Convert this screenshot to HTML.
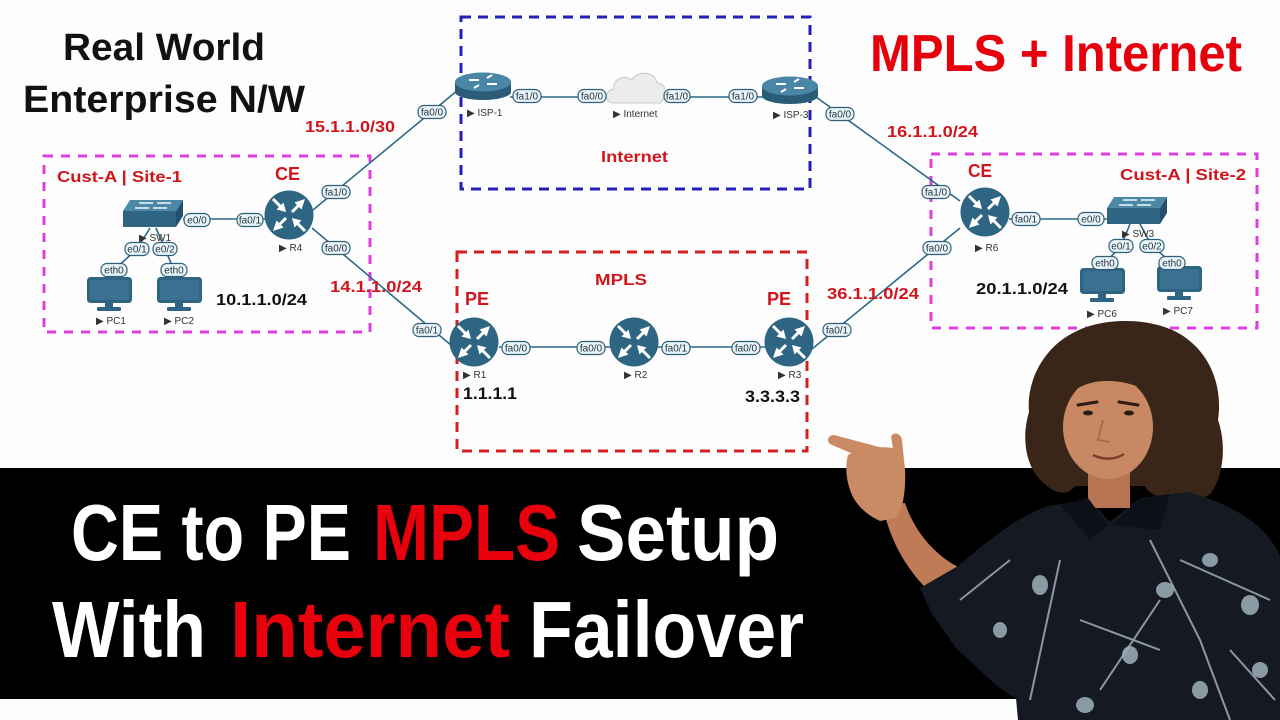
<!DOCTYPE html>
<html><head><meta charset="utf-8"><style>
html,body{margin:0;padding:0;background:#fff;}
svg{display:block;}
.pl rect{fill:#eaf4f8;stroke:#2f5f78;stroke-width:1.2;}
.pl text{font-family:"Liberation Sans",sans-serif;font-size:10px;fill:#1d3440;text-anchor:middle;}
.dl{font-family:"Liberation Sans","DejaVu Sans",sans-serif;font-size:10px;fill:#333;}
.rl{font-family:"Liberation Sans",sans-serif;font-weight:bold;fill:#cf161d;}
.bl{font-family:"Liberation Sans",sans-serif;font-weight:bold;fill:#111;}
.ln{stroke:#2b6a86;stroke-width:1.6;fill:none;}
</style></head><body>
<svg width="1280" height="720" viewBox="0 0 1280 720" xmlns="http://www.w3.org/2000/svg">
<defs>
<g id="rt">
<circle r="24.5" fill="#2e6583"/>
<g fill="#fff" stroke="#fff" stroke-width="3">
<line x1="3" y1="-3" x2="10" y2="-10"/><line x1="-8" y1="-8" x2="-16" y2="-16"/>
<line x1="-3" y1="3" x2="-10" y2="10"/><line x1="8" y1="8" x2="16" y2="16"/>
</g>
<g fill="#fff">
<polygon points="16,-16 12.5,-5.5 5.5,-12.5"/>
<polygon points="-3,-3 -5.5,-12.5 -12.5,-5.5"/>
<polygon points="-16,16 -12.5,5.5 -5.5,12.5"/>
<polygon points="3,3 12.5,5.5 5.5,12.5"/>
</g>
</g>
<g id="isp">
<path d="M-28,-4 L-28,6 A28,8 0 0 0 28,6 L28,-4 Z" fill="#2a5c78"/>
<ellipse cx="0" cy="-4" rx="28" ry="9.5" fill="#4a86a6"/>
<g stroke="#fff" stroke-width="2">
<line x1="-14" y1="-6" x2="-4" y2="-6"/><line x1="4" y1="-2" x2="14" y2="-2"/>
<line x1="-4" y1="-1" x2="-9" y2="2"/><line x1="4" y1="-8" x2="9" y2="-11"/>
</g>
</g>
<g id="sw">
<polygon points="7,0 60,0 53,11 0,11" fill="#4d88a6"/>
<rect x="0" y="11" width="53" height="16" fill="#2f6583"/>
<polygon points="53,11 60,0 60,16 53,27" fill="#23506a"/>
<g stroke="#fff" stroke-width="1.4">
<line x1="16" y1="3" x2="30" y2="3"/><line x1="34" y1="3" x2="48" y2="3"/>
<line x1="12" y1="8" x2="26" y2="8"/><line x1="30" y1="8" x2="44" y2="8"/>
</g>
</g>
<g id="pc">
<rect x="1.5" y="1.5" width="42" height="23" rx="2" fill="#3a7190" stroke="#2f6583" stroke-width="3"/>
<rect x="18" y="25" width="8" height="6" fill="#2f6583"/>
<rect x="10" y="30" width="24" height="4" rx="1" fill="#2f6583"/>
</g>
</defs>

<rect width="1280" height="720" fill="#fdfdfd"/>

<!-- titles -->
<text class="bl" x="63" y="60" font-size="38" textLength="202" lengthAdjust="spacingAndGlyphs">Real World</text>
<text class="bl" x="23" y="112" font-size="38" textLength="282" lengthAdjust="spacingAndGlyphs">Enterprise N/W</text>
<text x="870" y="71" font-size="52" font-weight="bold" font-family="Liberation Sans, sans-serif" fill="#e6000c" textLength="372" lengthAdjust="spacingAndGlyphs">MPLS + Internet</text>

<!-- boxes -->
<rect x="461" y="17" width="349" height="172" fill="none" stroke="#2320b8" stroke-width="3" stroke-dasharray="10 7"/>
<rect x="44" y="156" width="326" height="176" fill="none" stroke="#dd3fdd" stroke-width="3" stroke-dasharray="9 8"/>
<rect x="931" y="154" width="326" height="174" fill="none" stroke="#dd3fdd" stroke-width="3" stroke-dasharray="9 8"/>
<rect x="457" y="252" width="350" height="199" fill="none" stroke="#d42020" stroke-width="3" stroke-dasharray="10 7"/>

<!-- links -->
<line class="ln" x1="313" y1="210" x2="458" y2="90"/>
<line class="ln" x1="312" y1="228" x2="452" y2="346"/>
<line class="ln" x1="812" y1="349" x2="960" y2="228"/>
<line class="ln" x1="816" y1="97" x2="960" y2="201"/>
<line class="ln" x1="510" y1="97" x2="610" y2="97"/>
<line class="ln" x1="660" y1="97" x2="764" y2="97"/>
<line class="ln" x1="499" y1="347" x2="765" y2="347"/>
<line class="ln" x1="183" y1="219" x2="265" y2="219"/>
<line class="ln" x1="1009" y1="219" x2="1107" y2="219"/>
<polyline class="ln" points="150,228 137,249 114,270 110,278"/>
<polyline class="ln" points="156,228 165,249 174,270 178,278"/>
<polyline class="ln" points="1130,224 1121,246 1105,263 1101,268"/>
<polyline class="ln" points="1140,224 1152,246 1172,263 1178,268"/>

<!-- cloud -->
<path d="M614,103 C604,103 604,90 614,89 C612,79 625,74 632,80 C637,70 655,71 657,83 C667,83 668,97 660,103 Z" fill="#ececec" stroke="#c8c8c8" stroke-width="1"/>

<!-- devices -->
<use href="#isp" x="483" y="86"/>
<use href="#isp" x="790" y="90"/>
<use href="#rt" x="289" y="215"/>
<use href="#rt" x="474" y="342"/>
<use href="#rt" x="634" y="342"/>
<use href="#rt" x="789" y="342"/>
<use href="#rt" x="985" y="212"/>
<use href="#sw" x="123" y="200"/>
<use href="#sw" x="1107" y="197"/>
<use href="#pc" x="87" y="277"/>
<use href="#pc" x="157" y="277"/>
<use href="#pc" x="1080" y="268"/>
<use href="#pc" x="1157" y="266"/>

<!-- pills -->
<g class="pl">
<g transform="translate(197,220)"><rect x="-13" y="-6.5" width="26" height="13" rx="6"/><text y="3.5">e0/0</text></g>
<g transform="translate(250,220)"><rect x="-13" y="-6.5" width="26" height="13" rx="6"/><text y="3.5">fa0/1</text></g>
<g transform="translate(336,192)"><rect x="-14" y="-6.5" width="28" height="13" rx="6"/><text y="3.5">fa1/0</text></g>
<g transform="translate(336,248)"><rect x="-14" y="-6.5" width="28" height="13" rx="6"/><text y="3.5">fa0/0</text></g>
<g transform="translate(137,249)"><rect x="-12" y="-6.5" width="24" height="13" rx="6"/><text y="3.5">e0/1</text></g>
<g transform="translate(165,249)"><rect x="-12" y="-6.5" width="24" height="13" rx="6"/><text y="3.5">e0/2</text></g>
<g transform="translate(114,270)"><rect x="-13" y="-6.5" width="26" height="13" rx="6"/><text y="3.5">eth0</text></g>
<g transform="translate(174,270)"><rect x="-13" y="-6.5" width="26" height="13" rx="6"/><text y="3.5">eth0</text></g>
<g transform="translate(432,112)"><rect x="-14" y="-6.5" width="28" height="13" rx="6"/><text y="3.5">fa0/0</text></g>
<g transform="translate(427,330)"><rect x="-14" y="-6.5" width="28" height="13" rx="6"/><text y="3.5">fa0/1</text></g>
<g transform="translate(527,96)"><rect x="-14" y="-6.5" width="28" height="13" rx="6"/><text y="3.5">fa1/0</text></g>
<g transform="translate(592,96)"><rect x="-14" y="-6.5" width="28" height="13" rx="6"/><text y="3.5">fa0/0</text></g>
<g transform="translate(677,96)"><rect x="-13" y="-6.5" width="26" height="13" rx="6"/><text y="3.5">fa1/0</text></g>
<g transform="translate(743,96)"><rect x="-14" y="-6.5" width="28" height="13" rx="6"/><text y="3.5">fa1/0</text></g>
<g transform="translate(840,114)"><rect x="-14" y="-6.5" width="28" height="13" rx="6"/><text y="3.5">fa0/0</text></g>
<g transform="translate(516,348)"><rect x="-14" y="-6.5" width="28" height="13" rx="6"/><text y="3.5">fa0/0</text></g>
<g transform="translate(591,348)"><rect x="-14" y="-6.5" width="28" height="13" rx="6"/><text y="3.5">fa0/0</text></g>
<g transform="translate(676,348)"><rect x="-14" y="-6.5" width="28" height="13" rx="6"/><text y="3.5">fa0/1</text></g>
<g transform="translate(746,348)"><rect x="-14" y="-6.5" width="28" height="13" rx="6"/><text y="3.5">fa0/0</text></g>
<g transform="translate(837,330)"><rect x="-14" y="-6.5" width="28" height="13" rx="6"/><text y="3.5">fa0/1</text></g>
<g transform="translate(936,192)"><rect x="-14" y="-6.5" width="28" height="13" rx="6"/><text y="3.5">fa1/0</text></g>
<g transform="translate(937,248)"><rect x="-14" y="-6.5" width="28" height="13" rx="6"/><text y="3.5">fa0/0</text></g>
<g transform="translate(1026,219)"><rect x="-14" y="-6.5" width="28" height="13" rx="6"/><text y="3.5">fa0/1</text></g>
<g transform="translate(1091,219)"><rect x="-13" y="-6.5" width="26" height="13" rx="6"/><text y="3.5">e0/0</text></g>
<g transform="translate(1121,246)"><rect x="-12" y="-6.5" width="24" height="13" rx="6"/><text y="3.5">e0/1</text></g>
<g transform="translate(1152,246)"><rect x="-12" y="-6.5" width="24" height="13" rx="6"/><text y="3.5">e0/2</text></g>
<g transform="translate(1105,263)"><rect x="-13" y="-6.5" width="26" height="13" rx="6"/><text y="3.5">eth0</text></g>
<g transform="translate(1172,263)"><rect x="-13" y="-6.5" width="26" height="13" rx="6"/><text y="3.5">eth0</text></g>
</g>

<!-- device labels -->
<text class="dl" x="139" y="241">▶ SW1</text>
<text class="dl" x="279" y="251">▶ R4</text>
<text class="dl" x="96" y="324">▶ PC1</text>
<text class="dl" x="164" y="324">▶ PC2</text>
<text class="dl" x="467" y="116">▶ ISP-1</text>
<text class="dl" x="613" y="117">▶ Internet</text>
<text class="dl" x="773" y="118">▶ ISP-3</text>
<text class="dl" x="463" y="378">▶ R1</text>
<text class="dl" x="624" y="378">▶ R2</text>
<text class="dl" x="778" y="378">▶ R3</text>
<text class="dl" x="975" y="251">▶ R6</text>
<text class="dl" x="1122" y="237">▶ SW3</text>
<text class="dl" x="1087" y="317">▶ PC6</text>
<text class="dl" x="1163" y="314">▶ PC7</text>

<!-- red / black labels -->
<text class="rl" x="305" y="132" font-size="16" textLength="90" lengthAdjust="spacingAndGlyphs">15.1.1.0/30</text>
<text class="rl" x="887" y="137" font-size="16" textLength="91" lengthAdjust="spacingAndGlyphs">16.1.1.0/24</text>
<text class="rl" x="601" y="162" font-size="16" textLength="67" lengthAdjust="spacingAndGlyphs">Internet</text>
<text class="rl" x="57" y="182" font-size="16" textLength="125" lengthAdjust="spacingAndGlyphs">Cust-A | Site-1</text>
<text class="rl" x="275" y="180" font-size="18" textLength="25" lengthAdjust="spacingAndGlyphs">CE</text>
<text class="rl" x="330" y="292" font-size="16" textLength="92" lengthAdjust="spacingAndGlyphs">14.1.1.0/24</text>
<text class="bl" x="216" y="305" font-size="16" textLength="91" lengthAdjust="spacingAndGlyphs">10.1.1.0/24</text>
<text class="rl" x="595" y="285" font-size="16" textLength="52" lengthAdjust="spacingAndGlyphs">MPLS</text>
<text class="rl" x="465" y="305" font-size="18" textLength="24" lengthAdjust="spacingAndGlyphs">PE</text>
<text class="rl" x="767" y="305" font-size="18" textLength="24" lengthAdjust="spacingAndGlyphs">PE</text>
<text class="bl" x="463" y="399" font-size="17" textLength="54" lengthAdjust="spacingAndGlyphs">1.1.1.1</text>
<text class="bl" x="745" y="402" font-size="17" textLength="55" lengthAdjust="spacingAndGlyphs">3.3.3.3</text>
<text class="rl" x="827" y="299" font-size="16" textLength="92" lengthAdjust="spacingAndGlyphs">36.1.1.0/24</text>
<text class="rl" x="968" y="177" font-size="18" textLength="24" lengthAdjust="spacingAndGlyphs">CE</text>
<text class="rl" x="1120" y="180" font-size="16" textLength="126" lengthAdjust="spacingAndGlyphs">Cust-A | Site-2</text>
<text class="bl" x="976" y="294" font-size="16" textLength="92" lengthAdjust="spacingAndGlyphs">20.1.1.0/24</text>

<!-- banner -->
<rect x="0" y="468" width="1280" height="231" fill="#000"/>
<g font-family="Liberation Sans, sans-serif" font-weight="bold" font-size="80">
<text x="71" y="560" fill="#fff" textLength="280" lengthAdjust="spacingAndGlyphs">CE to PE</text>
<text x="373" y="560" fill="#e8000d" textLength="187" lengthAdjust="spacingAndGlyphs">MPLS</text>
<text x="577" y="560" fill="#fff" textLength="202" lengthAdjust="spacingAndGlyphs">Setup</text>
<text x="52" y="657" fill="#fff" textLength="154" lengthAdjust="spacingAndGlyphs">With</text>
<text x="230" y="657" fill="#e8000d" textLength="280" lengthAdjust="spacingAndGlyphs">Internet</text>
<text x="529" y="657" fill="#fff" textLength="275" lengthAdjust="spacingAndGlyphs">Failover</text>
</g>

<!-- person -->
<g>
<path d="M1045,484 C1028,472 1020,442 1029,412 C1026,380 1045,346 1075,332 C1100,318 1150,316 1180,334 C1210,352 1223,386 1218,420 C1227,446 1223,476 1211,493 C1200,503 1185,501 1175,493 C1165,501 1150,496 1145,486 L1075,486 C1068,496 1055,494 1045,484 Z" fill="#3a2619"/>
<path d="M883,505 L905,503 C915,533 936,556 960,568 L932,594 C910,574 889,542 883,505 Z" fill="#bf7a56"/>
<path d="M1048,506 L1090,500 L1110,522 L1140,498 L1188,492 C1232,504 1266,524 1280,556 L1280,720 L1018,720 L1016,698 C998,690 974,664 956,648 L932,614 L920,588 L958,566 C988,540 1018,516 1048,506 Z" fill="#151922"/>
<rect x="1088" y="468" width="42" height="40" fill="#b77452"/>
<ellipse cx="1108" cy="427" rx="45" ry="52" fill="#c88863"/>
<path d="M1058,404 C1060,370 1090,354 1120,357 C1150,360 1166,380 1166,408 C1150,386 1120,378 1095,382 C1080,385 1066,394 1058,404 Z" fill="#3a2619"/>
<g stroke="#2a1a12" stroke-width="3" stroke-linecap="round">
<line x1="1078" y1="405" x2="1097" y2="402"/><line x1="1119" y1="402" x2="1138" y2="405"/>
</g>
<ellipse cx="1088" cy="413" rx="5" ry="2.5" fill="#2a1a12"/>
<ellipse cx="1129" cy="413" rx="5" ry="2.5" fill="#2a1a12"/>
<path d="M1093,455 C1103,460 1115,460 1124,454" stroke="#7a3f2c" stroke-width="2.5" fill="none"/>
<path d="M1103,420 L1098,440 L1110,442" stroke="#a86a4a" stroke-width="2" fill="none"/>
<path d="M848,455 C860,448 880,446 893,448 L891,437 C893,431 901,433 902,440 L905,470 C906,490 903,510 896,518 L880,521 C867,515 855,505 850,490 C846,478 845,466 848,455 Z" fill="#c98a64"/>
<path d="M898,452 L834,435 C827,435 826,443 832,445 L872,462 Z" fill="#c98a64"/>
<path d="M1060,505 L1088,498 L1108,525 L1090,540 Z" fill="#0e1017"/>
<path d="M1140,498 L1170,494 L1160,530 L1112,525 Z" fill="#0e1017"/>
<g stroke="#a9b8c0" stroke-width="2" fill="none" opacity="0.8">
<path d="M1150,540 L1200,640 L1230,720"/>
<path d="M1060,560 L1030,700"/>
<path d="M1180,560 L1270,600"/>
<path d="M1080,620 L1160,650"/>
<path d="M960,600 L1010,560"/>
<path d="M1100,690 L1160,600"/>
<path d="M1230,650 L1275,700"/>
</g>
<g fill="#9fb1bc" opacity="0.85">
<ellipse cx="1040" cy="585" rx="8" ry="10"/>
<ellipse cx="1165" cy="590" rx="9" ry="8"/>
<ellipse cx="1210" cy="560" rx="8" ry="7"/>
<ellipse cx="1130" cy="655" rx="8" ry="9"/>
<ellipse cx="1250" cy="605" rx="9" ry="10"/>
<ellipse cx="1085" cy="705" rx="9" ry="8"/>
<ellipse cx="1200" cy="690" rx="8" ry="9"/>
<ellipse cx="1000" cy="630" rx="7" ry="8"/>
<ellipse cx="1260" cy="670" rx="8" ry="8"/>
</g>
</g>
</svg>
</body></html>
